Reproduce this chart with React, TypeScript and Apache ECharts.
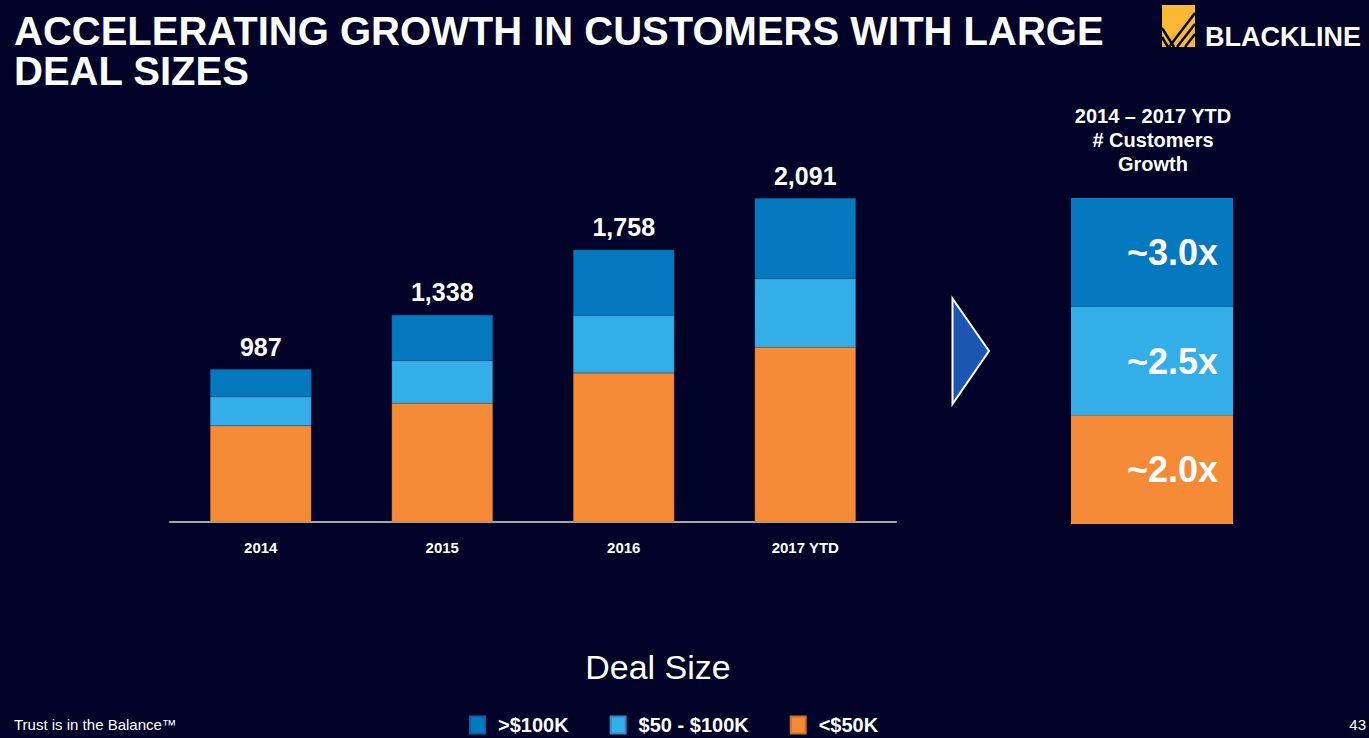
import React, { useEffect, useRef } from "react";
import * as echarts from "echarts";

const categories = ["2014", "2015", "2016", "2017 YTD"];
const smallDeals = [621, 767, 963, 1129]; // <$50K
const midDeals = [188, 275, 372, 443]; // $50 - $100K
const largeDeals = [178, 296, 423, 519]; // >$100K
const totals = [987, 1338, 1758, 2091];

const growthSegments = [1, 1, 1];
const growthLabels = ["~2.0x", "~2.5x", "~3.0x"];

const seriesNames = [">$100K", "$50 - $100K", "<$50K"];
const COL_DARK = "#0579c0";
const COL_LIGHT = "#33aee8";
const COL_ORANGE = "#f68b37";
const BG = "#000228";
const FONT = "Arial, 'Liberation Sans', sans-serif";

export default function App() {
  const ref = useRef<HTMLDivElement>(null);
  useEffect(() => {
    if (!ref.current) return;
    const chart = echarts.init(ref.current, null, { renderer: "svg" });
    const barBase = {
      type: "bar",
      stack: "deals",
      barWidth: 101,
      xAxisIndex: 0,
      yAxisIndex: 0,
    };
    const growthBase = {
      type: "bar",
      stack: "growth",
      barWidth: "100%",
      xAxisIndex: 1,
      yAxisIndex: 1,
      label: {
        show: true,
        position: "insideRight",
        distance: 15,
        color: "#ffffff",
        fontFamily: FONT,
        fontWeight: "bold",
        fontSize: 36,
      },
    };
    chart.setOption({
      animation: false,
      backgroundColor: BG,
      textStyle: { fontFamily: FONT },
      title: {
        text: "ACCELERATING GROWTH IN CUSTOMERS WITH LARGE\nDEAL SIZES",
        left: 14,
        top: 11,
        padding: 0,
        textStyle: {
          color: "#ffffff",
          fontFamily: FONT,
          fontWeight: "bold",
          fontSize: 40,
          lineHeight: 40,
        },
      },
      legend: {
        data: seriesNames,
        left: 469,
        top: 715,
        padding: 0,
        itemWidth: 15,
        itemHeight: 17,
        itemGap: 41,
        icon: "rect",
        textStyle: {
          color: "#ffffff",
          fontFamily: FONT,
          fontWeight: "bold",
          fontSize: 20,
          padding: [0, 0, 0, 8],
        },
      },
      grid: [
        { left: 170, width: 726, top: 135, height: 387 },
        { left: 1071, width: 162, top: 198, height: 326 },
      ],
      xAxis: [
        {
          type: "category",
          gridIndex: 0,
          data: categories,
          axisLine: { lineStyle: { color: "#a6a6a6", width: 2 } },
          axisTick: { show: false },
          axisLabel: {
            color: "#ffffff",
            fontFamily: FONT,
            fontWeight: "bold",
            fontSize: 15,
            margin: 18,
          },
        },
        {
          type: "category",
          gridIndex: 1,
          data: ["2014 – 2017 YTD"],
          show: false,
        },
      ],
      yAxis: [
        { type: "value", gridIndex: 0, min: 0, max: 2500, show: false },
        { type: "value", gridIndex: 1, min: 0, max: 3, show: false },
      ],
      series: [
        {
          ...barBase,
          name: "<$50K",
          data: smallDeals,
          itemStyle: { color: COL_ORANGE, borderColor: "#c8702c", borderWidth: 0.5 },
        },
        {
          ...barBase,
          name: "$50 - $100K",
          data: midDeals,
          itemStyle: { color: COL_LIGHT, borderColor: "#2a8ec4", borderWidth: 0.5 },
        },
        {
          ...barBase,
          name: ">$100K",
          data: largeDeals,
          itemStyle: { color: COL_DARK, borderColor: "#0465a3", borderWidth: 0.5 },
          label: {
            show: true,
            position: "top",
            distance: 10,
            color: "#ffffff",
            fontFamily: FONT,
            fontWeight: "bold",
            fontSize: 25,
            formatter: (p: any) => totals[p.dataIndex].toLocaleString("en-US"),
          },
        },
        {
          ...growthBase,
          name: "growth <$50K",
          data: [growthSegments[0]],
          itemStyle: { color: COL_ORANGE },
          label: { ...growthBase.label, formatter: () => growthLabels[0] },
        },
        {
          ...growthBase,
          name: "growth $50 - $100K",
          data: [growthSegments[1]],
          itemStyle: { color: COL_LIGHT },
          label: { ...growthBase.label, formatter: () => growthLabels[1] },
        },
        {
          ...growthBase,
          name: "growth >$100K",
          data: [growthSegments[2]],
          itemStyle: { color: COL_DARK },
          label: { ...growthBase.label, formatter: () => growthLabels[2] },
        },
      ],
      graphic: [
        // logo
        {
          type: "group",
          children: [
            { type: "rect", shape: { x: 1162, y: 5, width: 33, height: 42 }, style: { fill: "#f9b934" } },
            { type: "line", shape: { x1: 1195, y1: 13, x2: 1169, y2: 47 }, style: { stroke: BG, lineWidth: 2.5 } },
            { type: "line", shape: { x1: 1195, y1: 24, x2: 1177, y2: 47 }, style: { stroke: BG, lineWidth: 2.5 } },
            { type: "line", shape: { x1: 1195, y1: 34, x2: 1185, y2: 47 }, style: { stroke: BG, lineWidth: 2.5 } },
            { type: "line", shape: { x1: 1162, y1: 28, x2: 1174, y2: 47 }, style: { stroke: BG, lineWidth: 2.5 } },
            { type: "line", shape: { x1: 1162, y1: 37, x2: 1168, y2: 47 }, style: { stroke: BG, lineWidth: 2.5 } },
            {
              type: "text",
              x: 1205,
              y: 37,
              style: {
                text: "BLACKLINE",
                fill: "#ffffff",
                font: "bold 27px Arial, 'Liberation Sans', sans-serif",
                textVerticalAlign: "middle",
              },
            },
          ],
        },
        // right header
        {
          type: "text",
          x: 1153,
          y: 104,
          style: {
            text: "2014 – 2017 YTD\n# Customers\nGrowth",
            fill: "#ffffff",
            font: "bold 20px Arial, 'Liberation Sans', sans-serif",
            textAlign: "center",
            textVerticalAlign: "top",
            lineHeight: 24,
          },
        },
        // arrow
        {
          type: "polygon",
          shape: { points: [[952.5, 298.5], [989, 351], [952.5, 404]] },
          style: { fill: "#1b56b2", stroke: "#ffffff", lineWidth: 2 },
        },
        // Deal Size
        {
          type: "text",
          x: 658,
          y: 667,
          style: {
            text: "Deal Size",
            fill: "#ffffff",
            font: "34px Arial, 'Liberation Sans', sans-serif",
            textAlign: "center",
            textVerticalAlign: "middle",
          },
        },
        // footer
        {
          type: "text",
          x: 14,
          y: 724,
          style: {
            text: "Trust is in the Balance™",
            fill: "#ffffff",
            font: "15px Arial, 'Liberation Sans', sans-serif",
            textVerticalAlign: "middle",
          },
        },
        {
          type: "text",
          x: 1366,
          y: 724,
          style: {
            text: "43",
            fill: "#ffffff",
            font: "15px Arial, 'Liberation Sans', sans-serif",
            textAlign: "right",
            textVerticalAlign: "middle",
          },
        },
      ],
    });
    return () => chart.dispose();
  }, []);
  return (
    <div
      ref={ref}
      style={{ position: "fixed", left: 0, top: 0, width: 1369, height: 738 }}
    />
  );
}
